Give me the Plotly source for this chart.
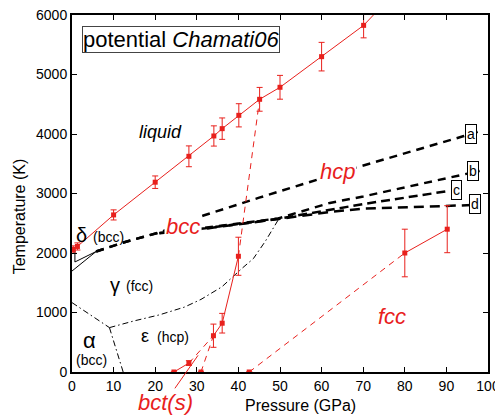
import plotly.graph_objects as go

RED = "rgb(232,32,28)"
FONT = "Liberation Sans, Arial, sans-serif"

# ---- data (pressure GPa, temperature K) ----
liq_p = [0.3, 1.3, 10, 20, 28.1, 34.1, 36.1, 40.1, 45.1, 50, 60, 70.1]
liq_t = [2060, 2110, 2640, 3190, 3625, 3967, 4090, 4314, 4583, 4785, 5300, 5826]
liq_err = [60, 60, 85, 105, 175, 170, 180, 195, 200, 200, 240, 210]
liq_ext_p = [70.1, 74.5]
liq_ext_t = [5826, 6150]

bct_p = [24.5, 28.1]
bct_t = [0, 150]
bct_err = [0, 40]

hcp_p = [34.0, 36.1, 40.0]
hcp_t = [610, 820, 1945]
hcp_err = [195, 165, 320]

zero_p = [31.0, 42.6]
zero_t = [0, 0]

fcc_p = [80.0, 90.2]
fcc_t = [2000, 2400]
fcc_err = [400, 395]

red_dash_1_p = [31.0, 34.0]
red_dash_1_t = [0, 610]
red_dash_2_p = [28.1, 34.0]
red_dash_2_t = [150, 610]
red_dash_3_p = [42.6, 80.0]
red_dash_3_t = [0, 2000]
red_dash_4_p = [40.0, 45.1]
red_dash_4_t = [1945, 4583]

# experimental phase boundaries (black)
solid_1_p = [0.0, 5.8]
solid_1_t = [1697, 2025]
solid_2_p = [0.7, 5.8]
solid_2_t = [1849, 2025]
solid_3_p = [0.7, 0.7]
solid_3_t = [1849, 2055]

curve_a_p = [5.8, 13, 21, 31.6, 45, 58, 69, 94, 98]
curve_a_t = [2025, 2190, 2345, 2630, 2930, 3218, 3450, 3961, 4045]
curve_b_p = [5.8, 13, 21, 32, 49.6, 62, 70, 94, 98]
curve_b_t = [2025, 2190, 2345, 2425, 2582, 2842, 2950, 3317, 3379]
curve_c_p = [21, 32, 49.6, 62, 70, 90.5]
curve_c_t = [2338, 2415, 2576, 2728, 2822, 3042]
curve_d_p = [21, 32, 49.6, 62, 70, 98]
curve_d_t = [2332, 2409, 2570, 2690, 2745, 2810]

dd_ag_p = [0.0, 9.0]
dd_ag_t = [1166, 746]
dd_ae_p = [9.0, 12.3]
dd_ae_t = [746, 0]
dd_ge_p = [9.0, 15, 21, 27, 31, 36, 41, 43.6, 46.5, 49.6]
dd_ge_t = [746, 860, 960, 1090, 1220, 1430, 1750, 1906, 2200, 2560]

x_ticks = [0, 10, 20, 30, 40, 50, 60, 70, 80, 90, 100]
y_ticks = [0, 1000, 2000, 3000, 4000, 5000, 6000]

fig = go.Figure()


def line(px, ty, color, width, dash="solid"):
    fig.add_trace(go.Scatter(x=px, y=ty, mode="lines",
                             line=dict(color=color, width=width, dash=dash),
                             hoverinfo="skip", showlegend=False))


def pts(px, ty, err, mode="lines+markers"):
    fig.add_trace(go.Scatter(
        x=px, y=ty, mode=mode,
        line=dict(color=RED, width=1),
        marker=dict(color=RED, size=5, symbol="square"),
        error_y=dict(type="data", array=err, visible=True, color=RED,
                     thickness=1, width=3),
        hoverinfo="skip", showlegend=False))


# black boundaries
DASHPAT = "8px,6px"
DDPAT = "6px,3px,1.5px,3px"
line(dd_ag_p, dd_ag_t, "black", 1, DDPAT)
line(dd_ae_p, dd_ae_t, "black", 1, DDPAT)
line(dd_ge_p, dd_ge_t, "black", 1, DDPAT)
line(solid_1_p, solid_1_t, "black", 1)
line(solid_2_p, solid_2_t, "black", 1)
line(solid_3_p, solid_3_t, "black", 1)
line(curve_a_p, curve_a_t, "black", 2.5, DASHPAT)
line(curve_b_p, curve_b_t, "black", 2.5, DASHPAT)
line(curve_c_p, curve_c_t, "black", 2.5, "9px,5px")
line(curve_d_p, curve_d_t, "black", 2.5, "10px,6px")

# red simulation results
RDASH = "6px,5px"
line(red_dash_1_p, red_dash_1_t, RED, 1, RDASH)
line(red_dash_2_p, red_dash_2_t, RED, 1, RDASH)
line(red_dash_3_p, red_dash_3_t, RED, 1, RDASH)
line(red_dash_4_p, red_dash_4_t, RED, 1, RDASH)
line(liq_ext_p, liq_ext_t, RED, 1)
pts(liq_p, liq_t, liq_err)
pts(bct_p, bct_t, bct_err)
pts(hcp_p, hcp_t, hcp_err)
pts(fcc_p, fcc_t, fcc_err)
pts(zero_p, zero_t, [0, 0], mode="markers")

ann = []


def txt(x, y, s, size, color="black", bg=None, border=None, italic=False, **kw):
    d = dict(x=x, y=y, xref="x", yref="y", text=("<i>%s</i>" % s) if italic else s,
             showarrow=False, xanchor="center", yanchor="middle",
             font=dict(size=size, color=color, family=FONT))
    if bg:
        d["bgcolor"] = bg
    if border:
        d["bordercolor"] = border
        d["borderwidth"] = 1
        d["borderpad"] = 1
    d.update(kw)
    ann.append(d)


txt(21.2, 4030, "liquid", 18, italic=True)
txt(63.8, 3365, "hcp", 22, RED, bg="white", italic=True)
txt(26.6, 2440, "bcc", 22, RED, bg="white", italic=True)
txt(76.9, 930, "fcc", 22, RED, italic=True)
txt(2.4, 2300, "δ", 20)
txt(8.8, 2270, "(bcc)", 14)
txt(10.3, 1460, "γ", 20)
txt(16.2, 1440, "(fcc)", 14)
txt(4.3, 525, "α", 22)
txt(4.7, 200, "(bcc)", 14)
txt(17.6, 600, "ε", 18)
txt(24.2, 590, "(hcp)", 14)
txt(96.0, 4006, "a", 14, bg="white", border="black")
txt(96.5, 3378, "b", 14, bg="white", border="black")
txt(92.5, 3065, "c", 14, bg="white", border="black")
txt(96.9, 2830, "d", 14, bg="white", border="black")

# bct(s) label with pointer line
ann.append(dict(x=30.3, y=280, xref="x", yref="y", ax=-33, ay=47,
                text="<i>bct(s)</i>", showarrow=True, arrowhead=0,
                arrowwidth=1, arrowcolor=RED, standoff=0, startstandoff=0,
                font=dict(size=22, color=RED, family=FONT)))

# title box (centre of reference box at 181, 39.5 px)
ann.append(dict(x=(181 - 72) / 416, y=(371.7 - 39.5) / 357, xref="paper", yref="paper",
                xanchor="center", yanchor="middle",
                text="potential <i>Chamati06</i>", showarrow=False,
                font=dict(size=22, color="black", family=FONT),
                bgcolor="white", bordercolor="#444", borderwidth=1, borderpad=0))

# axis titles (positions relative to plot area)
ann.append(dict(x=(300 - 72) / 416, y=-(405 - 371.7) / 357, xref="paper", yref="paper",
                xanchor="center", yanchor="middle",
                text="Pressure (GPa)", showarrow=False,
                font=dict(size=16, color="black", family=FONT)))
ann.append(dict(x=-(72 - 19) / 416, y=(371.7 - 216) / 357, xref="paper", yref="paper",
                xanchor="center", yanchor="middle",
                text="Temperature (K)", showarrow=False, textangle=-90,
                font=dict(size=16, color="black", family=FONT)))

axis_common = dict(showgrid=False, zeroline=False, showline=True, linecolor="black",
                   linewidth=2, mirror="ticks", ticks="inside", ticklen=5,
                   tickcolor="black", tickwidth=1, automargin=False,
                   ticklabeloverflow="allow",
                   tickfont=dict(size=14, color="black", family=FONT))

# the page body has an 8px default margin, so the figure is sized 8px smaller
fig.update_layout(
    width=495, height=408, autosize=False,
    margin=dict(l=64, r=15, t=6.7, b=44.3, autoexpand=False),
    plot_bgcolor="white", paper_bgcolor="white",
    xaxis=dict(range=[0, 100], tickvals=x_ticks, **axis_common),
    yaxis=dict(range=[0, 6000], tickvals=y_ticks, **axis_common),
    annotations=ann, showlegend=False,
)

fig.write_html("out.html")
